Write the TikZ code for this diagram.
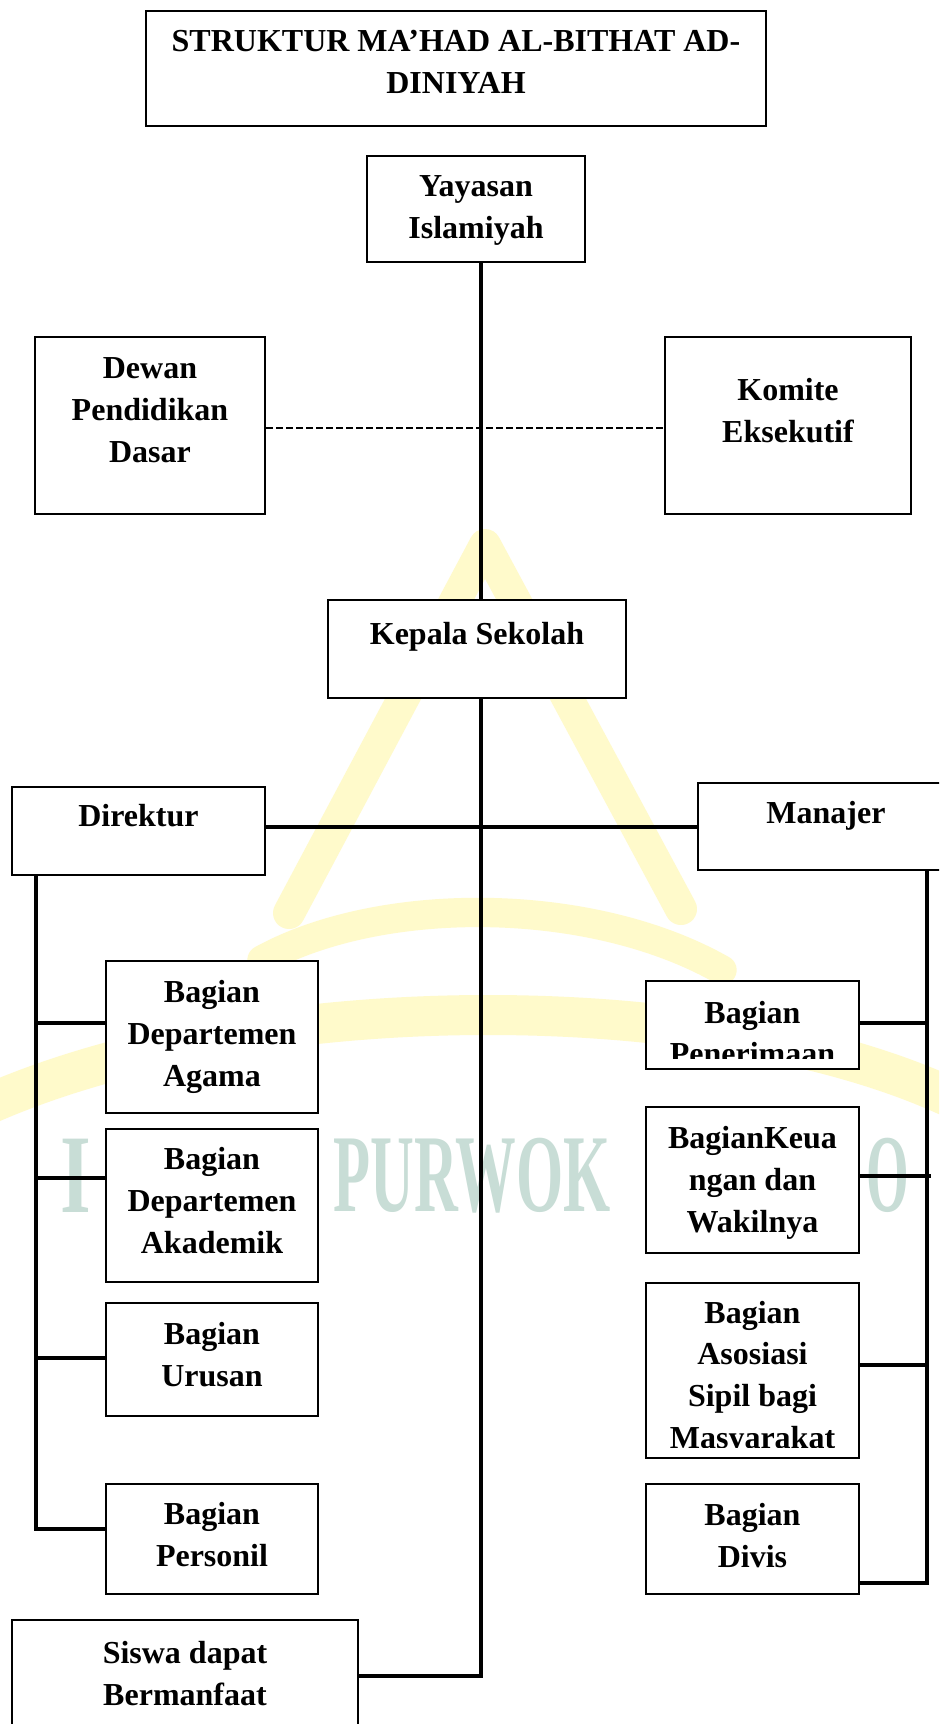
\documentclass[tikz,border=0pt]{standalone}
\usepackage{fontspec}
\setmainfont{Liberation Serif}
\usetikzlibrary{fit}
\definecolor{wmtext}{RGB}{200,221,214}
\definecolor{wmyel}{RGB}{255,250,203}
\tikzset{
  box/.style={draw=black, line width=1.75pt, fill=white, inner sep=0pt, rectangle},
  lbl/.style={anchor=base, align=center, inner sep=0pt, font=\fontsize{24}{31.35}\selectfont\bfseries},
  conn/.style={draw=black, line width=2.5pt},
  dashconn/.style={draw=black, line width=1.5pt, dash pattern=on 5pt off 2.5pt},
  wmband/.style={draw=wmyel, line cap=round, line join=round},
  wmword/.style={anchor=south west, inner sep=0pt, text=wmtext, font=\bfseries}
}
\begin{document}
\begin{tikzpicture}[x=0.75pt,y=-0.75pt]
\useasboundingbox (0,0) rectangle (939,1724);
\fill[white] (0,0) rectangle (939,1724);
\clip (0,0) rectangle (939,1724);

% watermark (only the parts not hidden by the boxes)
\draw[wmband, line width=24pt] (289,913) -- (485,545) -- (681,909);
\draw[wmband, line width=22pt] (262,960) .. controls (380,895) and (590,895) .. (722,970);
\draw[wmband, line width=30pt] (-20,1108) .. controls (250,985) and (720,985) .. (960,1102);
\node[wmword] (wmA) at (60,1213) {\resizebox{23pt}{55pt}{I}};
\node[wmword] (wmB) at (333,1213) {\resizebox{208pt}{55pt}{PURWOK}};
\node[wmword] (wmC) at (866,1213) {\resizebox{32pt}{55pt}{O}};

% boxes
\node[box, fit={(146,11)(766,126)}] (title) {};
\node[box, fit={(367,156)(585,262)}] (yay) {};
\node[box, fit={(35,337)(265,514)}] (dew) {};
\node[box, fit={(665,337)(911,514)}] (kom) {};
\node[box, fit={(328,600)(626,698)}] (kep) {};
\node[box, fit={(12,787)(265,875)}] (dir) {};
\node[box, fit={(698,783)(960,870)}] (man) {};
\node[box, fit={(106,961)(318,1113)}] (aga) {};
\node[box, fit={(106,1129)(318,1282)}] (aka) {};
\node[box, fit={(106,1303)(318,1416)}] (uru) {};
\node[box, fit={(106,1484)(318,1594)}] (per) {};
\node[box, fit={(12,1620)(358,1760)}] (sis) {};
\node[box, fit={(646,981)(859,1069)}] (pen) {};
\node[box, fit={(646,1107)(859,1253)}] (keu) {};
\node[box, fit={(646,1283)(859,1458)}] (aso) {};
\node[box, fit={(646,1484)(859,1594)}] (div) {};

% connector coordinates
\coordinate (sp) at (481,0);
\coordinate (hm) at (481,827);
\coordinate (sj) at (481,1676);
\coordinate (dl) at (0,428);
\coordinate (l1) at (36,1023);
\coordinate (l2) at (36,1178);
\coordinate (l3) at (36,1358);
\coordinate (l4) at (36,1529);
\coordinate (r1) at (927,1023);
\coordinate (r2) at (931,1176);
\coordinate (r3) at (927,1365);
\coordinate (r4) at (927,1583);

% connectors
\draw[dashconn] (dew.east |- dl) -- (kom.west |- dl);
\draw[conn] (yay.south -| sp) -- (kep.north -| sp);
\draw[conn] (kep.south -| sp) -- (sj) -- (sj -| sis.east);
\draw[conn] (dir.east |- hm) -- (man.west |- hm);
\draw[conn] (dir.south -| l1) -- (l4) -- (l4 -| per.west);
\draw[conn] (l1) -- (l1 -| aga.west);
\draw[conn] (l2) -- (l2 -| aka.west);
\draw[conn] (l3) -- (l3 -| uru.west);
\draw[conn] (man.south -| r1) -- (r4) -- (r4 -| div.east);
\draw[conn] (pen.east |- r1) -- (r1);
\draw[conn] (keu.east |- r2) -- (r2);
\draw[conn] (aso.east |- r3) -- (r3);

% texts (anchor = baseline of the last line)
\node[lbl] (tTitle) at (456,93.6) {STRUKTUR MA’HAD AL-BITHAT AD-\\DINIYAH};
\node[lbl] (tYay) at (476,238.6) {Yayasan\\Islamiyah};
\node[lbl] (tDew) at (150,462.5) {Dewan\\Pendidikan\\Dasar};
\node[lbl] (tKom) at (788,442) {Komite\\Eksekutif};
\node[lbl] (tKep) at (477,644.5) {Kepala Sekolah};
\node[lbl] (tDir) at (138.5,826.7) {Direktur};
\node[lbl] (tMan) at (826,823) {Manajer};
\node[lbl] (tAga) at (212,1086) {Bagian\\Departemen\\Agama};
\node[lbl] (tAka) at (212,1253) {Bagian\\Departemen\\Akademik};
\node[lbl] (tUru) at (212,1386) {Bagian\\Urusan};
\node[lbl] (tPer) at (212,1566) {Bagian\\Personil};
\node[lbl] (tSis) at (185,1705) {Siswa dapat\\Bermanfaat};
\begin{scope}
  \clip (646,981) rectangle (859,1058);
  \node[lbl] (tPen) at (752.5,1064.8) {Bagian\\Penerimaan};
\end{scope}
\node[lbl] (tKeu) at (752.5,1232) {BagianKeua\\ngan dan\\Wakilnya};
\begin{scope}
  \clip (646,1283) rectangle (859,1447);
  \node[lbl] (tAso) at (752.5,1448.4) {Bagian\\Asosiasi\\Sipil bagi\\Masyarakat};
\end{scope}
\node[lbl] (tDiv) at (752.5,1567) {Bagian\\Divis};
\end{tikzpicture}
\end{document}
